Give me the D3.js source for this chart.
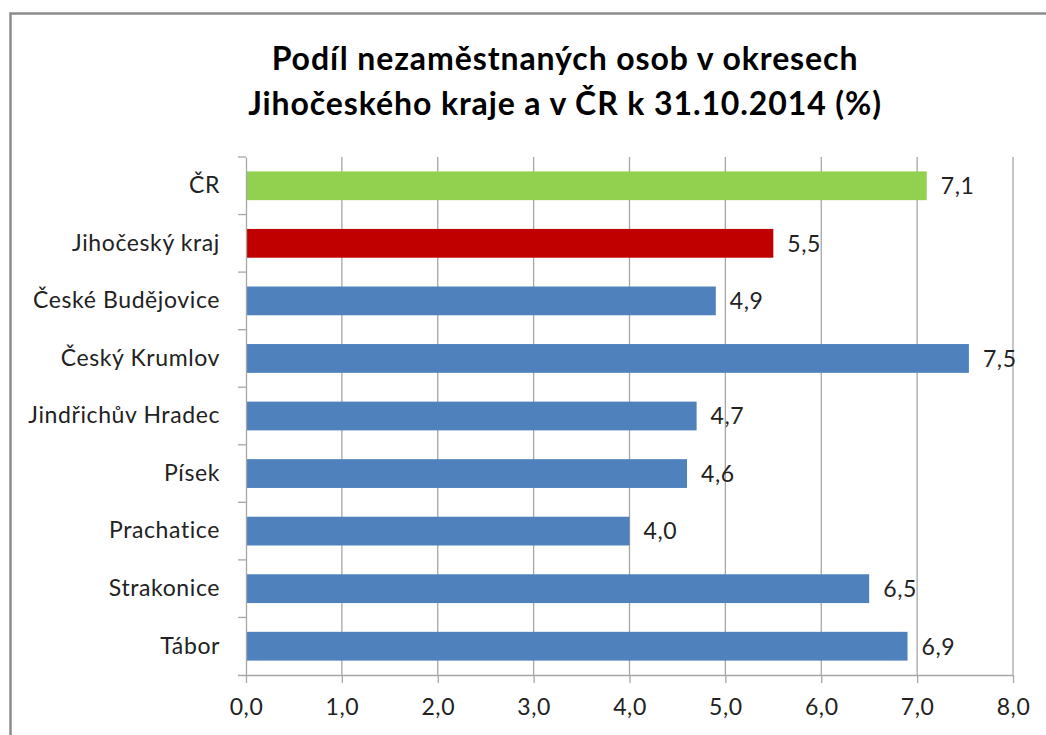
<!DOCTYPE html>
<html>
<head>
<meta charset="utf-8">
<script src="https://cdn.jsdelivr.net/npm/d3@7"></script>
<style>
  body { margin: 0; background: #fff; }
  svg { display: block; font-family: Lato, "Open Sans", sans-serif; }
</style>
</head>
<body>
<div id="chart"></div>
<script>
// Data
var districts = ["ČR", "Jihočeský kraj", "České Budějovice", "Český Krumlov",
  "Jindřichův Hradec", "Písek", "Prachatice", "Strakonice", "Tábor"];
var shares = [7.1, 5.5, 4.9, 7.54, 4.7, 4.6, 4.0, 6.5, 6.9];
var barColors = ["#92D050", "#C00000", "#4F81BD", "#4F81BD", "#4F81BD",
  "#4F81BD", "#4F81BD", "#4F81BD", "#4F81BD"];
var xTicks = [0, 1, 2, 3, 4, 5, 6, 7, 8];
var titleLines = ["Podíl nezaměstnaných osob v okresech", "Jihočeského kraje a v ČR k 31.10.2014 (%)"];

var W = 1046, H = 735;
var margin = {top: 157, right: 33, bottom: 60, left: 246};
var labelFont = 23, labelSpacing = 0.6;

var svg = d3.select("#chart").append("svg")
  .attr("width", W).attr("height", H);

// Outer chart border
svg.append("rect")
  .attr("x", 10.5).attr("y", 13.5)
  .attr("width", W).attr("height", H)
  .attr("fill", "#fff").attr("stroke", "#8c8c8c").attr("stroke-width", 2.5);

// Title
svg.append("text")
  .attr("x", 565).attr("y", 70)
  .attr("text-anchor", "middle")
  .attr("font-size", 32).attr("font-weight", "bold")
  .attr("letter-spacing", 0.9)
  .attr("fill", "#000")
  .selectAll("tspan").data(titleLines).join("tspan")
    .attr("x", 565).attr("dy", (d, i) => i ? 45 : 0)
    .text(d => d);

var x = d3.scaleLinear().domain([0, 8]).range([margin.left, W - margin.right]);
var y = d3.scaleBand().domain(districts)
  .range([margin.top, H - margin.bottom]).paddingInner(0.5).paddingOuter(0.25);
var y0 = H - margin.bottom;

// Vertical gridlines
svg.append("g").selectAll("line").data(xTicks.slice(1)).join("line")
  .attr("x1", d => x(d)).attr("x2", d => x(d))
  .attr("y1", margin.top).attr("y2", y0)
  .attr("stroke", "#a6a6a6").attr("stroke-width", 1.3);

// Bars
svg.append("g").selectAll("rect").data(districts).join("rect")
  .attr("x", x(0)).attr("y", d => y(d))
  .attr("width", (d, i) => x(shares[i]) - x(0))
  .attr("height", y.bandwidth())
  .attr("fill", (d, i) => barColors[i]);

// Value labels
svg.append("g").selectAll("text").data(districts).join("text")
  .attr("x", (d, i) => x(shares[i]) + 14)
  .attr("y", d => y(d) + y.bandwidth() / 2)
  .attr("dy", "0.36em")
  .attr("font-size", labelFont).attr("letter-spacing", labelSpacing).attr("fill", "#222")
  .text((d, i) => d3.format(".1f")(shares[i]).replace(".", ","));

// Bottom axis
var xAxis = svg.append("g")
  .attr("transform", "translate(0," + y0 + ")")
  .call(d3.axisBottom(x).tickValues(xTicks).tickSizeOuter(0).tickSize(8)
    .tickFormat(d => d3.format(".1f")(d).replace(".", ",")));
xAxis.select(".domain").attr("stroke", "#a6a6a6").attr("stroke-width", 1.3)
  .attr("d", "M" + (x(0) - 8) + ",0.5H" + x(8));
xAxis.selectAll(".tick line").attr("stroke", "#a6a6a6").attr("stroke-width", 1.3);
xAxis.selectAll(".tick text").attr("font-size", labelFont).attr("fill", "#222")
  .attr("letter-spacing", labelSpacing)
  .attr("font-family", "Lato, 'Open Sans', sans-serif").attr("dy", "1.25em");

// Left axis
var yAxis = svg.append("g")
  .attr("transform", "translate(" + x(0) + ",0)")
  .call(d3.axisLeft(y).tickSize(0).tickPadding(26));
yAxis.select(".domain").attr("stroke", "#a6a6a6").attr("stroke-width", 1.3);
yAxis.selectAll(".tick text").attr("font-size", labelFont).attr("fill", "#222")
  .attr("letter-spacing", labelSpacing)
  .attr("font-family", "Lato, 'Open Sans', sans-serif");

// Category separator ticks on the left axis
var step = y.step();
var sepY = d3.range(districts.length).map(i => margin.top + i * step);
yAxis.append("g").selectAll("line").data(sepY).join("line")
  .attr("x1", -8).attr("x2", 0)
  .attr("y1", d => d).attr("y2", d => d)
  .attr("stroke", "#a6a6a6").attr("stroke-width", 1.3);
</script>
</body>
</html>
